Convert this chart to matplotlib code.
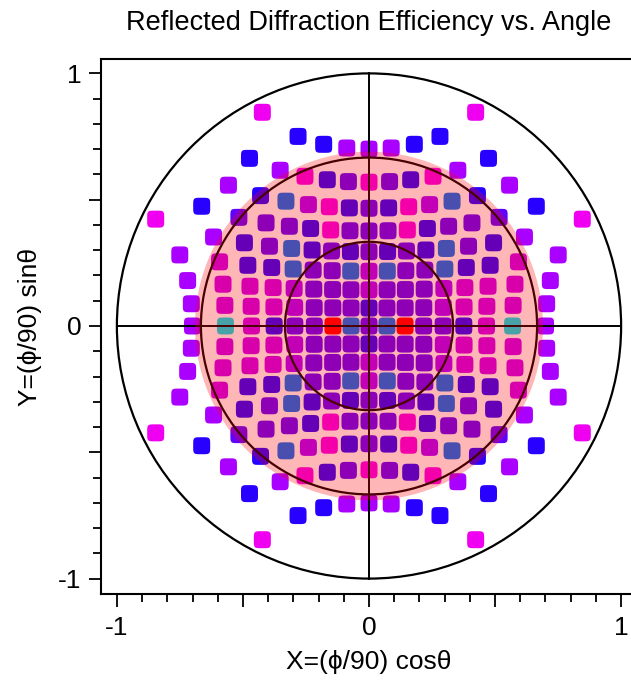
import numpy as np
import matplotlib
matplotlib.use('Agg')
import matplotlib.pyplot as plt
from matplotlib.patches import Circle
from matplotlib.path import Path

plt.rcParams['font.family'] = ['Liberation Sans', 'DejaVu Sans']
plt.rcParams['axes.unicode_minus'] = False

# ---- data -------------------------------------------------------------
# ratio wavelength / grating period (spacing of diffraction orders in direction cosines)
order_step = 0.1114

# colour class of every reflected order; rows n = +8 .. -8, columns m = -8 .. +8
order_rows = [
    "....MBBVVVBBM....",
    "...BVMBUMUBMVB...",
    "..VBSVMBUBMVSBV..",
    ".BUUUBMUUUMBUUUB.",
    "MVBUSBUBUBUBSUBVM",
    "VWBBSUUSVSUUSBBWV",
    "VWWWVUUUVUUUVWWWV",
    "VWWWVUUUBUUUVWWWV",
    "VCWBUURSUSRUUBWCV",
    "VWWWVUUUBUUUVWWWV",
    "VWWWVUUUVUUUVWWWV",
    "VWBBSUUSVSUUSBBWV",
    "MVBUSBUBUBUBSUBVM",
    ".BUUUBMUUUMBUUUB.",
    "..VBSVMBUBMVSBV..",
    "...BVMBUMUBMVB...",
    "....MBBVVVBBM....",
]
order_max = 8

# efficiency colour classes
class_colors = {
    "C": "#00E5EE",
    "S": "#0070F5",
    "B": "#2800FF",
    "U": "#6000FF",
    "V": "#AA00FF",
    "W": "#C800F0",
    "M": "#F000F0",
    "R": "#FF0000",
}

angle_circles = [1.0, 2 / 3, 1 / 3]   # phi = 90, 60, 30 deg
na_radius = 0.69

x_major = [-1, -0.5, 0, 0.5, 1]
x_major_labels = ["-1", "", "0", "", "1"]
minor_ticks = np.round(np.arange(-1.0, 1.0001, 0.1), 2)

title = "Reflected Diffraction Efficiency vs. Angle"
xlabel = "X=(\u03d5/90) cos\u03b8"
ylabel = "Y=(\u03d5/90) sin\u03b8"

# ---- convert orders to plot coordinates ---------------------------------
xs, ys, cols = [], [], []
for i, row in enumerate(order_rows):
    n = order_max - i
    for j, c in enumerate(row):
        if c == ".":
            continue
        m = j - order_max
        kx, ky = m * order_step, n * order_step
        k = min(np.hypot(kx, ky), 1.0)
        phi = np.degrees(np.arcsin(k))
        th = np.arctan2(ky, kx)
        xs.append(phi / 90 * np.cos(th))
        ys.append(phi / 90 * np.sin(th))
        cols.append(class_colors[c])

# rounded-square (superellipse) marker shape
t = np.linspace(0, 2 * np.pi, 121)
ct, st = np.cos(t), np.sin(t)
verts = np.column_stack([np.sign(ct) * np.abs(ct) ** 0.4,
                         np.sign(st) * np.abs(st) ** 0.4])
verts[-1] = verts[0]
codes = [Path.MOVETO] + [Path.LINETO] * (len(verts) - 2) + [Path.CLOSEPOLY]
rounded_square = Path(verts, codes)

# ---- figure -------------------------------------------------------------
fig = plt.figure(figsize=(6.31, 6.84), dpi=100)
ax = fig.add_axes([101 / 631, 90 / 684, 536 / 631, 535 / 684])
ax.set_xlim(-1.063, 1.063)
ax.set_ylim(-1.061, 1.057)

ax.scatter(xs, ys, s=150, marker=rounded_square, c=cols, linewidths=0, zorder=2)

for r in angle_circles:
    ax.add_patch(Circle((0, 0), r, fill=False, ec="black", lw=1.6, zorder=3))
ax.plot([-1, 1], [0, 0], color="black", lw=1.4, zorder=3)
ax.plot([0, 0], [-1, 1], color="black", lw=1.4, zorder=3)

ax.add_patch(Circle((0, 0), na_radius, fc="red", ec="none", alpha=0.286, zorder=4))

ax.set_xticks(x_major)
ax.set_xticklabels(x_major_labels)
ax.set_yticks(x_major)
ax.set_yticklabels(x_major_labels)
ax.set_xticks(minor_ticks, minor=True)
ax.set_yticks(minor_ticks, minor=True)
ax.tick_params(which="major", direction="out", length=9, width=1.3,
               labelsize=19, pad=5, top=False, right=False)
ax.tick_params(axis="x", which="major", pad=7)
ax.tick_params(which="minor", direction="out", length=5.5, width=1.3,
               top=False, right=False)
for side in ["left", "bottom", "top"]:
    ax.spines[side].set_linewidth(1.5)
ax.spines["right"].set_visible(False)

ax.set_title(title, fontsize=19.5, pad=21)
ax.set_xlabel(xlabel, fontsize=19, labelpad=7)
ax.set_ylabel(ylabel, fontsize=19, labelpad=12)

fig.savefig("out.png", dpi=100)
